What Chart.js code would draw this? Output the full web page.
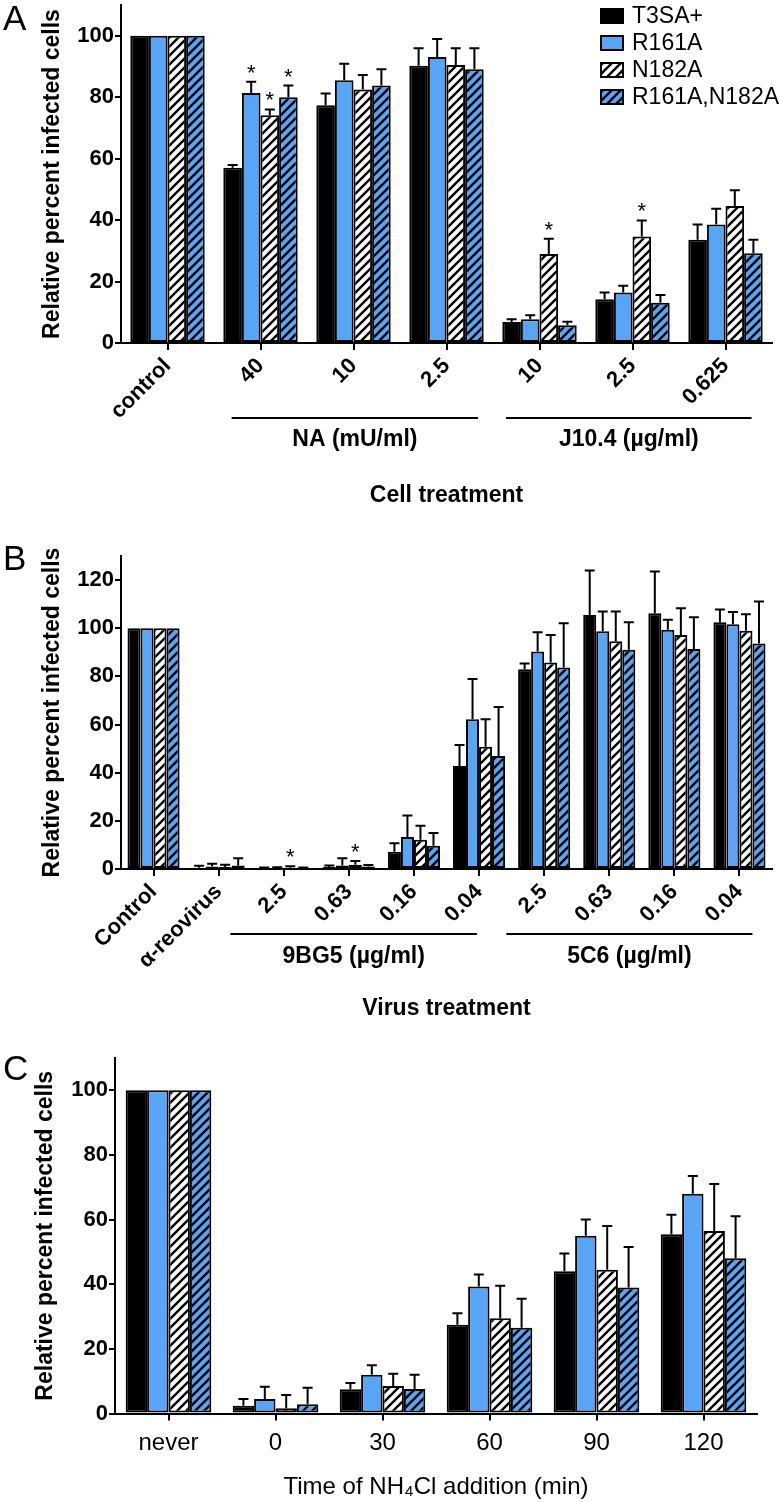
<!DOCTYPE html>
<html>
<head>
<meta charset="utf-8">
<script src="https://cdn.jsdelivr.net/npm/chart.js@4.4.1/dist/chart.umd.min.js"></script>
<style>
  body { margin: 0; background: #fff; width: 784px; height: 1502px; position: relative; overflow: hidden; }
  canvas { position: absolute; left: 0; }
</style>
</head>
<body>
<canvas id="chartA" width="784" height="512" style="top:0px"></canvas>
<canvas id="chartB" width="784" height="510" style="top:515px"></canvas>
<canvas id="chartC" width="784" height="472" style="top:1030px"></canvas>
<script>
const FONT = "'Liberation Sans', Arial, sans-serif";
const BLUE = '#59a5f5';

const seriesNames = ['T3SA+', 'R161A', 'N182A', 'R161A,N182A'];

// Panel A - cell treatment
const catsA = ['control', '40', '10', '2.5', '10', '2.5', '0.625'];
const t3saA = [100, 57, 77.4, 90.2, 6.8, 14.2, 33.6];
const t3saErrA = [0, 0.9, 3.8, 5.7, 0.9, 2.2, 5.0];
const r161aA = [100, 81.4, 85.5, 93.1, 7.7, 16.4, 38.6];
const r161aErrA = [0, 3.6, 5.4, 5.8, 1.3, 2.2, 5.1];
const n182aA = [100, 74.1, 82.5, 90.5, 29.0, 34.7, 44.6];
const n182aErrA = [0, 1.9, 4.7, 5.4, 4.9, 5.2, 5.1];
const doubleA = [100, 80.0, 83.8, 89.1, 5.8, 13.1, 29.2];
const doubleErrA = [0, 3.8, 5.3, 6.8, 1.1, 2.5, 4.4];
const starsA = [[1, 1], [2, 1], [3, 1], [2, 4], [2, 5]];
const groupsA = [
    { text: 'NA (mU/ml)', from: 0.69, to: 3.34 },
    { text: 'J10.4 (µg/ml)', from: 3.64, to: 6.28 }
];

// Panel B - virus treatment
const catsB = ['Control', 'α-reovirus', '2.5', '0.63', '0.16', '0.04', '2.5', '0.63', '0.16', '0.04'];
const t3saB = [100, 0.5, 0.3, 0.8, 7.2, 42.8, 83.0, 105.5, 106.2, 102.5];
const t3saErrB = [0, 0.8, 0.3, 0.7, 3.5, 8.7, 2.4, 18.5, 17.4, 5.3];
const r161aB = [100, 1.0, 0.3, 1.5, 13.3, 62.2, 90.3, 98.7, 99.4, 101.7];
const r161aErrB = [0, 1.2, 0.4, 3.0, 8.9, 16.7, 8.0, 8.2, 4.1, 5.0];
const n182aB = [100, 0.8, 0.5, 1.8, 12.2, 50.8, 85.8, 94.6, 97.2, 99.0];
const n182aErrB = [0, 1.0, 0.6, 1.5, 5.8, 11.4, 11.4, 12.3, 11.1, 6.8];
const doubleB = [100, 1.5, 0.3, 1.0, 9.7, 46.9, 83.7, 91.1, 91.4, 93.7];
const doubleErrB = [0, 3.0, 0.3, 0.7, 5.3, 20.4, 18.4, 11.4, 13.2, 17.4];
const starsB = [[2, 2], [2, 3]];
const groupsB = [
    { text: '9BG5 (µg/ml)', from: 1.18, to: 4.97 },
    { text: '5C6 (µg/ml)', from: 5.42, to: 9.2 }
];

// Panel C - NH4Cl addition time
const catsC = ['never', '0', '30', '60', '90', '120'];
const t3saC = [100, 2.4, 7.5, 27.5, 44.0, 55.5];
const t3saErrC = [0, 2.1, 1.9, 3.5, 5.5, 6.0];
const r161aC = [100, 4.5, 12.0, 39.3, 55.0, 68.0];
const r161aErrC = [0, 3.8, 2.9, 3.7, 5.0, 5.5];
const n182aC = [100, 1.6, 8.5, 29.5, 44.5, 56.5];
const n182aErrC = [0, 4.1, 3.8, 10.0, 13.5, 14.5];
const doubleC = [100, 2.9, 7.6, 26.5, 39.0, 48.0];
const doubleErrC = [0, 5.1, 4.4, 9.0, 12.5, 13.0];

function makeHatch(bg) {
    const c = document.createElement('canvas');
    c.width = 9; c.height = 9;
    const g = c.getContext('2d');
    g.fillStyle = bg;
    g.fillRect(0, 0, 9, 9);
    g.strokeStyle = '#000';
    g.lineWidth = 2.4;
    g.beginPath();
    g.moveTo(-1, 10); g.lineTo(10, -1);
    g.moveTo(-2, 2); g.lineTo(2, -2);
    g.moveTo(7, 11); g.lineTo(11, 7);
    g.stroke();
    return g.createPattern(c, 'repeat');
}

const fills = ['#000', BLUE, makeHatch('#fff'), makeHatch(BLUE)];

function datasets(values) {
    return values.map((v, i) => ({
        label: seriesNames[i],
        data: v,
        backgroundColor: fills[i],
        borderColor: '#000',
        borderWidth: 2,
        borderSkipped: false,
        categoryPercentage: 0.8,
        barPercentage: 1.0
    }));
}

function extras(p) {
    return {
        id: 'extras',
        afterDraw(chart) {
            const ctx = chart.ctx;
            const y = chart.scales.y, x = chart.scales.x;
            const area = chart.chartArea;
            const errTop = (di, i) => y.getPixelForValue(chart.data.datasets[di].data[i] + p.errors[di][i]);
            ctx.save();
            ctx.strokeStyle = '#000';
            ctx.fillStyle = '#000';
            ctx.lineWidth = 2;
            p.errors.forEach((errs, di) => {
                chart.getDatasetMeta(di).data.forEach((bar, i) => {
                    if (!errs[i]) return;
                    const top = errTop(di, i);
                    ctx.beginPath();
                    ctx.moveTo(bar.x, bar.y);
                    ctx.lineTo(bar.x, top);
                    ctx.moveTo(bar.x - 5, top);
                    ctx.lineTo(bar.x + 5, top);
                    ctx.stroke();
                });
            });
            ctx.font = '22px ' + FONT;
            ctx.textAlign = 'center';
            ctx.textBaseline = 'alphabetic';
            (p.stars || []).forEach(([di, i]) => {
                const bar = chart.getDatasetMeta(di).data[i];
                ctx.fillText('*', bar.x, errTop(di, i) - 2);
            });
            (p.groups || []).forEach(gr => {
                const x0 = x.getPixelForValue(gr.from), x1 = x.getPixelForValue(gr.to);
                const ly = area.bottom + p.groupLine;
                ctx.beginPath();
                ctx.moveTo(x0, ly);
                ctx.lineTo(x1, ly);
                ctx.stroke();
                ctx.font = 'bold 23px ' + FONT;
                ctx.textBaseline = 'middle';
                ctx.fillText(gr.text, (x0 + x1) / 2, area.bottom + p.groupText);
            });
            ctx.font = '35px ' + FONT;
            ctx.textAlign = 'left';
            ctx.textBaseline = 'alphabetic';
            ctx.fillText(p.letter, 3, p.letterY);
            if (p.legend) {
                ctx.font = '23px ' + FONT;
                ctx.textBaseline = 'middle';
                seriesNames.forEach((name, i) => {
                    const cy = 16 + i * 27;
                    ctx.fillStyle = fills[i];
                    ctx.fillRect(601, cy - 7, 22, 14);
                    ctx.strokeRect(601, cy - 7, 22, 14);
                    ctx.fillStyle = '#000';
                    ctx.fillText(name, 632, cy + 1);
                });
            }
            ctx.restore();
        }
    };
}

function yAxis(max, width, titlePad) {
    return {
        min: 0,
        max: max,
        border: { display: true, color: '#000', width: 2 },
        grid: { display: true, drawOnChartArea: false, drawTicks: true, tickLength: 6, lineWidth: 2, color: '#000' },
        ticks: { stepSize: 20, includeBounds: false, padding: 1, color: '#000', font: { family: FONT, size: 22, weight: 'bold' } },
        title: {
            display: true, text: 'Relative percent infected cells', color: '#000', padding: titlePad,
            font: { family: FONT, size: 23, weight: 'bold' }
        },
        afterBuildTicks: s => { s.ticks = s.ticks.filter(t => t.value <= max - 10); },
        afterFit: s => { s.width = width; s.paddingTop = 0; s.paddingBottom = 0; }
    };
}

function xAxis(height, rot, tickFont, tickPad, title, titleFont, titlePad) {
    return {
        offset: true,
        border: { display: true, color: '#000', width: 2 },
        grid: { display: true, offset: false, drawOnChartArea: false, drawTicks: true, tickLength: 7, lineWidth: 2, color: '#000' },
        ticks: { autoSkip: false, minRotation: rot, maxRotation: rot, padding: tickPad, color: '#000', font: tickFont },
        title: { display: true, text: title, color: '#000', padding: titlePad, font: titleFont },
        afterFit: s => { s.height = height; s.paddingLeft = 0; s.paddingRight = 0; }
    };
}

function barChart(id, cats, values, x, y, padding, plugin) {
    return new Chart(document.getElementById(id), {
        type: 'bar',
        data: { labels: cats, datasets: datasets(values) },
        options: {
            responsive: false,
            animation: false,
            events: [],
            layout: { padding: padding },
            plugins: { legend: { display: false }, tooltip: { enabled: false } },
            scales: { x: x, y: y }
        },
        plugins: [plugin]
    });
}

const boldTick = { family: FONT, size: 22, weight: 'bold' };
const boldTitle = { family: FONT, size: 23, weight: 'bold' };

barChart('chartA', catsA, [t3saA, r161aA, n182aA, doubleA],
    xAxis(169, 45, boldTick, 3, 'Cell treatment', boldTitle, 3),
    yAxis(110, 121, 39),
    { top: 5, left: 0, right: 12, bottom: 0 },
    extras({
        errors: [t3saErrA, r161aErrA, n182aErrA, doubleErrA], stars: starsA, groups: groupsA,
        groupLine: 75, groupText: 97, letter: 'A', letterY: 30, legend: true
    }));

barChart('chartB', catsB, [t3saB, r161aB, n182aB, doubleB],
    xAxis(156, 45, boldTick, 3, 'Virus treatment', boldTitle, 3),
    yAxis(130, 121, 39),
    { top: 41, left: 0, right: 12, bottom: 0 },
    extras({
        errors: [t3saErrB, r161aErrB, n182aErrB, doubleErrB], stars: starsB, groups: groupsB,
        groupLine: 65, groupText: 88, letter: 'B', letterY: 55, legend: false
    }));

barChart('chartC', catsC, [t3saC, r161aC, n182aC, doubleC],
    xAxis(88.5, 0, { family: FONT, size: 24 }, 8, 'Time of NH₄Cl addition (min)', { family: FONT, size: 24 }, 0),
    yAxis(110, 115, 32),
    { top: 28, left: 0, right: 27, bottom: 0 },
    extras({
        errors: [t3saErrC, r161aErrC, n182aErrC, doubleErrC],
        letter: 'C', letterY: 50, legend: false
    }));
</script>
</body>
</html>
